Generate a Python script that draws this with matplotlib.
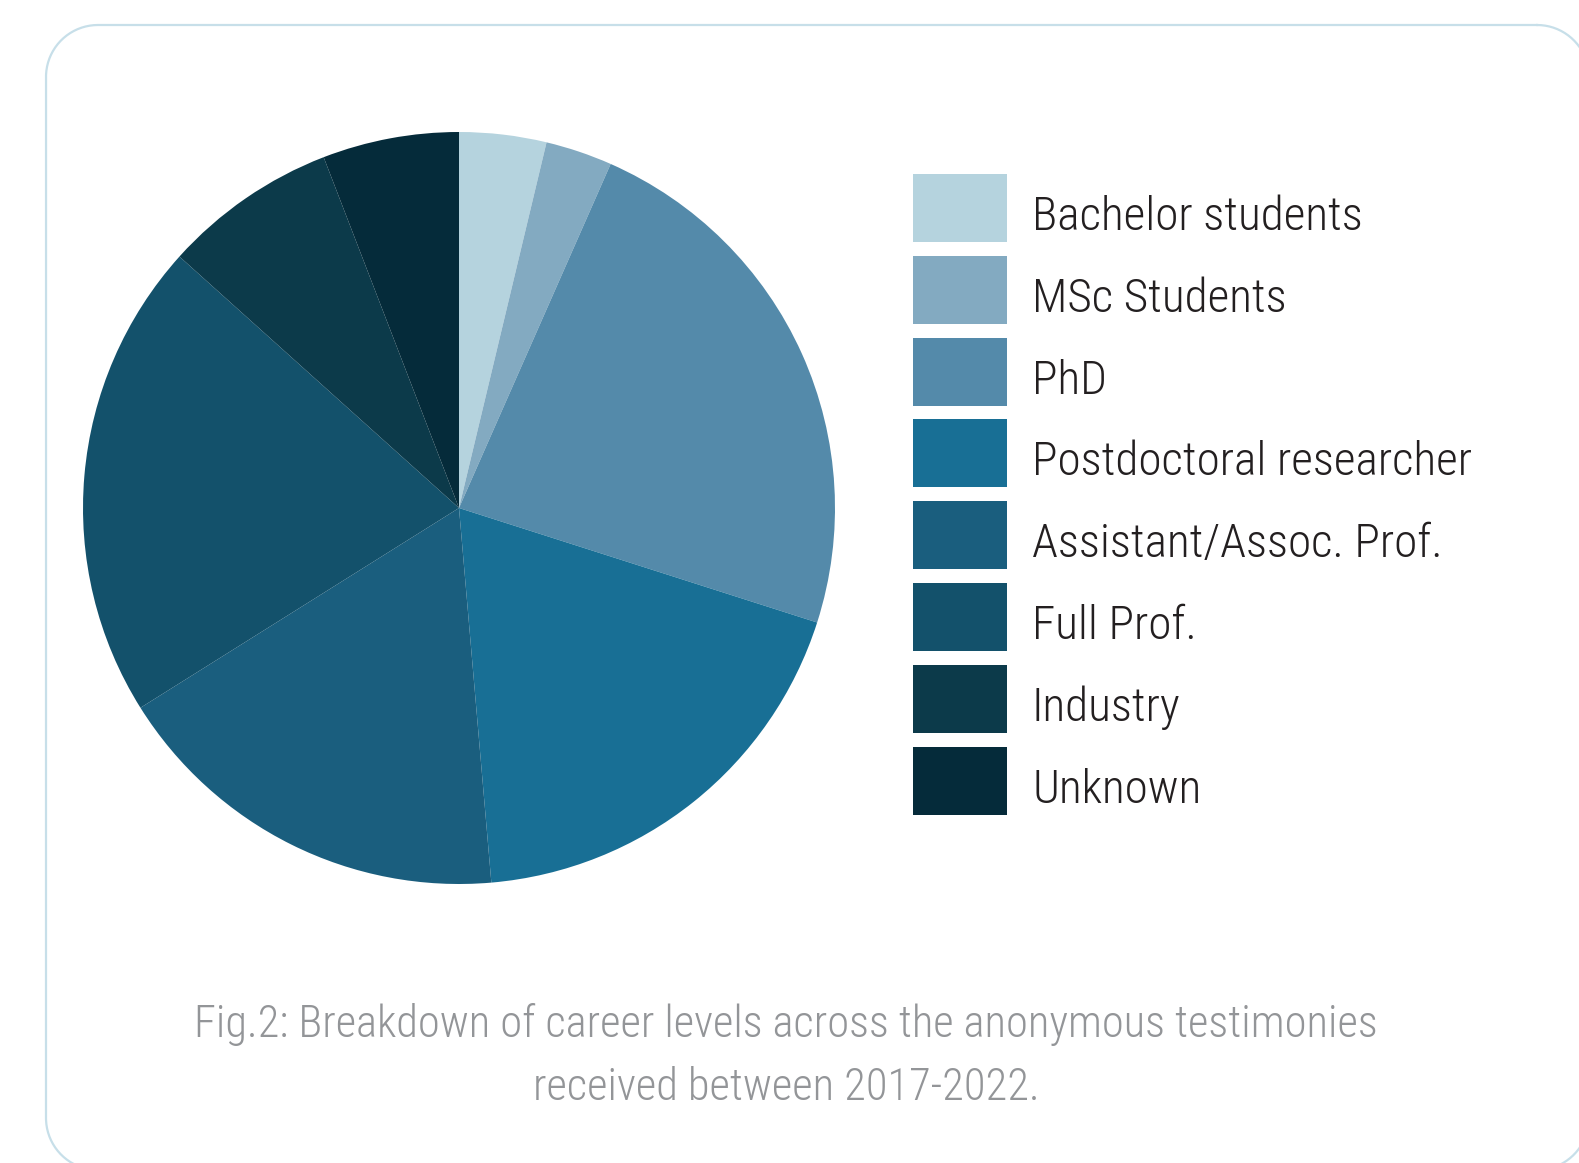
"""
Pie chart: career levels across anonymous testimonies (2017-2022)
"""
import numpy as np
import matplotlib
matplotlib.use("Agg")
import matplotlib.pyplot as plt
from matplotlib.patches import Rectangle

# Data (counts)
labels = ['Bachelor students', 'MSc Students', 'PhD', 'Postdoctoral researcher',
          'Assistant/Assoc. Prof.', 'Full Prof.', 'Industry', 'Unknown']
counts = [3, 2.3, 18.7, 15, 14, 16.5, 6, 4.7]
colors = ['#b5d3de', '#83aac1', '#548aaa', '#186f95',
          '#1a5e7e', '#13516b', '#0c3a4a', '#052b3a']

caption = ('Fig.2: Breakdown of career levels across the anonymous testimonies\n'
           'received between 2017-2022.')

W, H = 1579, 1163
fig = plt.figure(figsize=(W / 100, H / 100), dpi=100)
fig.patch.set_facecolor('white')

font = ['Roboto Condensed', 'DejaVu Sans']

# background axes in pixel units (y measured from the top)
bg = fig.add_axes([0, 0, 1, 1])
bg.set_xlim(0, W)
bg.set_ylim(0, H)
bg.axis('off')
def py(y):
    return H - y

# rounded frame, runs off the right and bottom edges (sampled outline)
x0, x1, y0, y1, rad = 46, 1589, 25, 1170, 52
corners = [(x1 - rad, y0 + rad, -90, 0), (x1 - rad, y1 - rad, 0, 90),
           (x0 + rad, y1 - rad, 90, 180), (x0 + rad, y0 + rad, 180, 270)]
fx, fy = [], []
for ccx, ccy, a0, a1 in corners:
    t = np.radians(np.linspace(a0, a1, 40))
    fx.extend(ccx + rad * np.cos(t))
    fy.extend(ccy + rad * np.sin(t))
fx.append(fx[0])
fy.append(fy[0])
bg.plot(fx, [py(v) for v in fy], color='#c7dfe9', linewidth=1.6, clip_on=True)

# pie
cx, cy, r = 459, 508, 376
ax = fig.add_axes([(cx - r) / W, (H - cy - r) / H, 2 * r / W, 2 * r / H])
ax.pie(counts, colors=colors, startangle=90, counterclock=False, radius=1,
       wedgeprops=dict(linewidth=0))
ax.set_xlim(-1, 1)
ax.set_ylim(-1, 1)
ax.set_aspect('auto')
ax.axis('off')

# legend
top0 = 174
step = 81.8
for i, (lab, col) in enumerate(zip(labels, colors)):
    y_top = top0 + i * step
    bg.add_patch(Rectangle((913, py(y_top + 68)), 94, 68, facecolor=col, edgecolor='none'))
    bg.text(1032, py(y_top + 43), lab, fontsize=34, family=font, fontweight='light',
            color='#231f20', va='center', ha='left')

bg.text(786, py(1056), caption, fontsize=32, family=font, fontweight='light',
        color='#939598', ha='center', va='center', linespacing=1.6)

fig.savefig('out.png', dpi=100)
